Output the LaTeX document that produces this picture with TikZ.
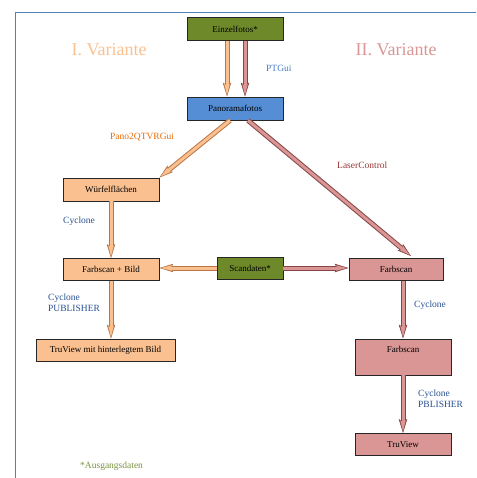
\documentclass[tikz,border=0pt]{standalone}
\usepackage{fontspec}
\setmainfont{Liberation Serif}
\usetikzlibrary{arrows.meta}

\definecolor{framecol}{RGB}{79,129,189}
\definecolor{olivebox}{RGB}{110,137,42}
\definecolor{bluebox}{RGB}{85,142,213}
\definecolor{orangebox}{RGB}{250,192,144}
\definecolor{orangeline}{RGB}{185,118,70}
\definecolor{pinkbox}{RGB}{217,150,148}
\definecolor{pinkline}{RGB}{135,70,70}
\definecolor{tooltext}{RGB}{40,80,145}
\definecolor{ptguitext}{RGB}{70,125,200}
\definecolor{panotext}{RGB}{228,108,10}
\definecolor{lasertext}{RGB}{149,55,53}
\definecolor{notetext}{RGB}{119,147,60}

\begin{document}
\begin{tikzpicture}
  [
    x = 1pt, y = -1pt,
    box/.style = {draw=black!85, line width=0.8pt, inner sep=0pt, minimum height=23pt, font=\fontsize{9}{10}\selectfont},
    source/.style = {box, fill=olivebox},
    pano box/.style = {box, fill=bluebox},
    var one/.style = {box, fill=orangebox},
    var two/.style = {box, fill=pinkbox},
    variant/.style = {font=\fontsize{18}{20}\selectfont},
    tool/.style = {anchor=west, align=left, inner sep=0pt, font=\fontsize{9.5}{11}\selectfont, text=tooltext},
    orange flow/.style = {preaction={draw=orangeline, line width=5pt, -{Stealth[length=14pt,width=8.5pt,inset=2.5pt,line width=0.6pt]}},
                          draw=orangebox, line width=3pt, -{Stealth[length=11pt,width=5.5pt,inset=2pt,sep=1.8pt,line width=0pt]}},
    pink flow/.style = {preaction={draw=pinkline, line width=5pt, -{Stealth[length=14pt,width=8.5pt,inset=2.5pt,line width=0.6pt]}},
                        draw=pinkbox, line width=3pt, -{Stealth[length=11pt,width=5.5pt,inset=2pt,sep=1.8pt,line width=0pt]}},
  ]

  \useasboundingbox (0,0) rectangle (476,478);
  \draw [framecol, line width=1.8pt] (476,12.5) -- (15.5,12.5) -- (15.5,478);

  \node [variant, text=orangebox] (varone) at (109,50) {I. Variante};
  \node [variant, text=pinkbox]   (vartwo) at (396,50) {II. Variante};

  \node [source, minimum width=96pt]   (einzel)  at (235,29)    {Einzelfotos*};
  \node [pano box, minimum width=96pt] (pano)    at (235,108.5) {Panoramafotos};
  \node [var one, minimum width=96pt]  (wuerfel) at (111,189.5) {Würfelflächen};
  \node [var one, minimum width=96pt, minimum height=22pt] (fbild) at (111,269.5) {Farbscan + Bild};
  \node [source, minimum width=66pt, minimum height=22pt]  (scan)  at (250,268) {Scandaten*};
  \node [var two, minimum width=94pt, minimum height=22pt] (farb)  at (396,269.5) {Farbscan};
  \node [var one, minimum width=139pt, minimum height=22pt] (truone) at (105.5,350) {TruView mit hinterlegtem Bild};
  \node [var two, minimum width=96pt, text height=13pt, text depth=23pt] (farbtwo) at (403,357) {Farbscan};
  \node [var two, minimum width=96pt, minimum height=22pt] (trutwo) at (403,444.5) {TruView};

  \draw [orange flow] ([xshift=-8pt]einzel.south) -- ([xshift=-8pt]pano.north);
  \draw [pink flow]   ([xshift=10pt]einzel.south) -- ([xshift=10pt]pano.north);
  \draw [orange flow] ([xshift=-5pt]pano.south) -- (wuerfel.north east);
  \draw [pink flow]   ([xshift=13pt]pano.south) -- ([xshift=15pt,yshift=2pt]farb.north);
  \draw [orange flow] (wuerfel.south) -- (fbild.north);
  \draw [orange flow] (scan.west) -- (scan.west -| fbild.east);
  \draw [pink flow]   (scan.east) -- (scan.east -| farb.west);
  \draw [orange flow] (fbild.south) -- (fbild.south |- truone.north);
  \draw [pink flow]   (farb.south -| farbtwo.north) -- (farbtwo.north);
  \draw [pink flow]   (farbtwo.south) -- (trutwo.north);

  \node [tool, text=ptguitext] (ptgui)  at (266,68)  {PTGui};
  \node [tool, text=panotext]  (pqtvr)  at (110,137) {Pano2QTVRGui};
  \node [tool, text=lasertext] (laser)  at (337,165) {LaserControl};
  \node [tool] (cycone)  at (63,221)    {Cyclone};
  \node [tool] (pubone)  at (48,302.5)  {Cyclone\\PUBLISHER};
  \node [tool] (cyctwo)  at (414,305)   {Cyclone};
  \node [tool] (pubtwo)  at (418,398.5) {Cyclone\\PBLISHER};
  \node [tool, text=notetext] (note) at (80,466) {*Ausgangsdaten};

\end{tikzpicture}
\end{document}
